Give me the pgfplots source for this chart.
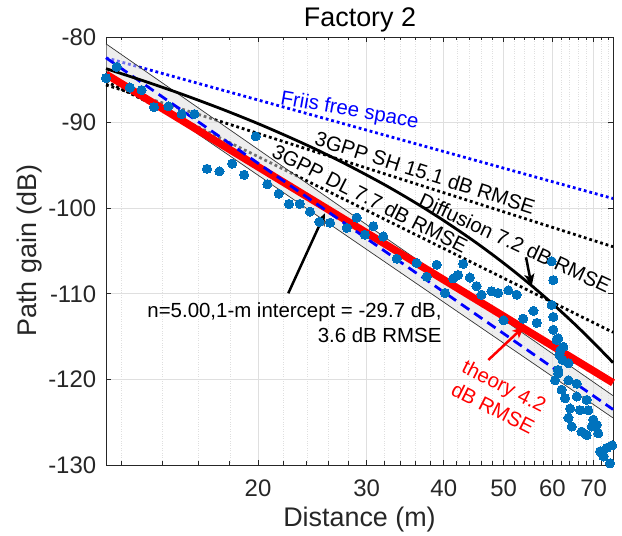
\documentclass[border=0pt]{standalone}
\usepackage{fontspec}
\setmainfont{Liberation Sans}
\usepackage{pgfplots}
\pgfplotsset{compat=1.18}
\usetikzlibrary{arrows.meta}
\definecolor{mblue}{RGB}{0,114,189}
\definecolor{axgray}{RGB}{38,38,38}
\definecolor{gridgray}{RGB}{223,223,223}
\definecolor{bandfill}{RGB}{222,222,222}

\begin{document}
\begin{tikzpicture}[x=1bp,y=1bp]
\useasboundingbox (0,0) rectangle (622,536);
\begin{axis}[
  at={(106bp,71bp)}, anchor=south west,
  width=507bp, height=428bp, scale only axis,
  xmode=log, xmin=11.34, xmax=75.24, ymin=-130, ymax=-80,
  xtick={20,30,40,50,60,70}, xticklabels={20,30,40,50,60,70},
  minor xtick={12,14,16,18,22,24,26,28,32,34,36,38,42,44,46,48,52,54,56,58,62,64,66,68,72,74},
  ytick={-130,-120,-110,-100,-90,-80},
  yticklabels={-130,-120,-110,-100,-90,-80},
  tick align=inside,
  major tick length=5bp, minor tick length=3.5bp,
  every tick label/.append style={font=\fontsize{24}{24}\selectfont, text=axgray},
  xticklabel style={anchor=base, inner sep=0pt, yshift=-32bp},
  yticklabel style={anchor=east, inner sep=0pt, xshift=-9.7bp},
  axis line style={axgray, line width=0.9bp},
  every tick/.style={axgray, line width=0.8bp},
  grid=both,
  major grid style={gridgray, line width=0.8bp},
  minor grid style={gray!25, dotted, line width=0.6bp},
  clip=false,
]
% measured
\addplot[only marks, mark=*, mark size=4.6pt, mark options={fill=mblue, draw=mblue, line width=0pt}] coordinates {
(11.34,-84.8) (11.8,-83.5) (12.4,-85.9) (12.95,-86.2) (13.56,-88.2) (14.31,-88.1)
(15.04,-89.0) (15.77,-89.0) (16.53,-95.4) (17.32,-95.7) (18.16,-94.8) (18.99,-96.1)
(19.83,-91.6) (20.7,-97.2) (21.6,-98.3) (22.45,-99.5) (23.37,-99.5) (24.28,-100.4)
(25.14,-101.6) (26.17,-101.7) (27.85,-102.3) (28.9,-101.1) (29.8,-103.1) (30.75,-102.1)
(31.92,-103.3) (33.56,-105.9) (36.15,-106.4) (37.53,-108.0) (38.96,-106.6) (40.2,-109.9)
(41.45,-108.2) (42.2,-107.8) (43.0,-106.5) (44.1,-108.1) (45.2,-109.1) (46.05,-110.1)
(47.8,-109.7) (49.0,-109.9) (50.0,-113.1) (50.9,-109.6) (52.5,-110.1) (53.8,-112.9)
(55.9,-112.0) (56.6,-113.4) (59.85,-106.2) (60.2,-108.4) (59.85,-111.3) (60.2,-112.7)
(60.2,-114.2) (60.96,-115.4) (61.3,-115.2) (61.6,-117.1) (61.8,-116.6) (62.3,-117.7)
(62.5,-116.2) (61.3,-118.9) (61.3,-119.3) (60.6,-120.1) (62.1,-121.2) (62.9,-122.2)
(63.7,-118.1) (63.7,-120.1) (64.1,-123.4) (63.7,-124.5) (64.5,-125.5) (65.7,-122.0)
(65.7,-120.5) (66.5,-123.6) (66.9,-126.1) (68.2,-122.4) (68.6,-123.6) (68.2,-126.5)
(69.5,-125.5) (69.9,-124.7) (70.8,-125.3) (71.2,-126.3) (71.7,-128.4) (72.6,-129.0)
(73.5,-128.0) (74.4,-129.8) (75.0,-127.7)
};
% Friis
\addplot[blue, line width=2.8bp, dash pattern=on 2.8bp off 2.9bp] coordinates {(11.34,-82.43) (75.24,-98.87)};
% 3GPP SH
\addplot[black, line width=2.8bp, dash pattern=on 2.8bp off 2.9bp] coordinates {(11.34,-85.6) (75.24,-104.5)};
% 3GPP DL
\addplot[black, line width=2.8bp, dash pattern=on 2.8bp off 2.9bp] coordinates {(11.34,-85.19) (75.24,-114.5)};
% fit band
\addplot[draw=none, fill=bandfill, fill opacity=0.5] coordinates {(11.34,-80.8) (75.24,-121.9) (75.24,-124.5) (11.34,-84.0)} -- cycle;
\addplot[black!80, line width=0.7bp] coordinates {(11.34,-80.8) (75.24,-121.9)};
\addplot[black!80, line width=0.7bp] coordinates {(11.34,-84.0) (75.24,-124.5)};
% theory
\addplot[red, line width=7.5bp] coordinates {(11.34,-84.35) (75.24,-120.4)};
% n=5 fit
\addplot[blue, line width=2.8bp, dash pattern=on 10bp off 6bp] coordinates {(11.34,-82.43) (75.24,-123.51)};
% diffusion
\addplot[black, line width=2.8bp, smooth] coordinates {
(11.34,-83.70) (13,-85.09) (15,-86.64) (17.5,-88.44) (20,-90.12) (22.5,-91.72)
(25,-93.23) (28,-94.99) (32,-97.22) (36,-99.37) (40,-101.45) (45,-103.96)
(50,-106.41) (55,-108.8) (60,-111.15) (65,-113.45) (70,-115.72) (75.24,-118.04)
};
% arrows
\draw[black, line width=2.5bp, -{Stealth[length=12bp, width=10bp, inset=3bp]}] (axis cs:22.39,-109.94) -- (axis cs:25.67,-100.6);
\draw[black, line width=2.5bp, -{Stealth[length=12bp, width=10bp, inset=3bp]}] (axis cs:54.37,-105.74) -- (axis cs:55.54,-109.09);
\draw[red, line width=2.5bp, -{Stealth[length=12bp, width=10bp, inset=3bp]}] (axis cs:47.24,-117.73) -- (axis cs:54.0,-113.8);
% labels
\node[blue, rotate=-10, font=\fontsize{20.5}{25}\selectfont] at (axis cs:28.14,-88.64) {Friis free space};
\node[black, rotate=-17.7, font=\fontsize{20.5}{25}\selectfont] at (axis cs:37.3,-95.83) {3GPP SH 15.1 dB RMSE};
\node[black, rotate=-27, font=\fontsize{20.5}{25}\selectfont] at (axis cs:30.37,-98.87) {3GPP DL 7.7 dB RMSE};
\node[black, rotate=-25, font=\fontsize{20.5}{25}\selectfont] at (axis cs:52.18,-104.07) {Diffusion 7.2 dB RMSE};
\node[black, anchor=east, align=right, inner sep=0pt, font=\fontsize{20.5}{25}\selectfont] at (axis cs:39.7,-113.35) {n=5.00,1-m intercept = -29.7 dB,\\3.6 dB RMSE};
\node[red, rotate=-27, align=center, font=\fontsize{20.5}{25}\selectfont] at (axis cs:49.1,-122.06) {theory 4.2\\dB RMSE};
\end{axis}
\node[anchor=base, text=axgray, font=\fontsize{27}{27}\selectfont] at (359.5,9.5) {Distance (m)};
\node[anchor=base, rotate=90, text=axgray, font=\fontsize{27}{27}\selectfont] at (36.7,285.5) {Path gain (dB)};
\node[anchor=base, text=black, font=\fontsize{27}{27}\selectfont] at (360,509.3) {Factory 2};
\end{tikzpicture}
\end{document}
